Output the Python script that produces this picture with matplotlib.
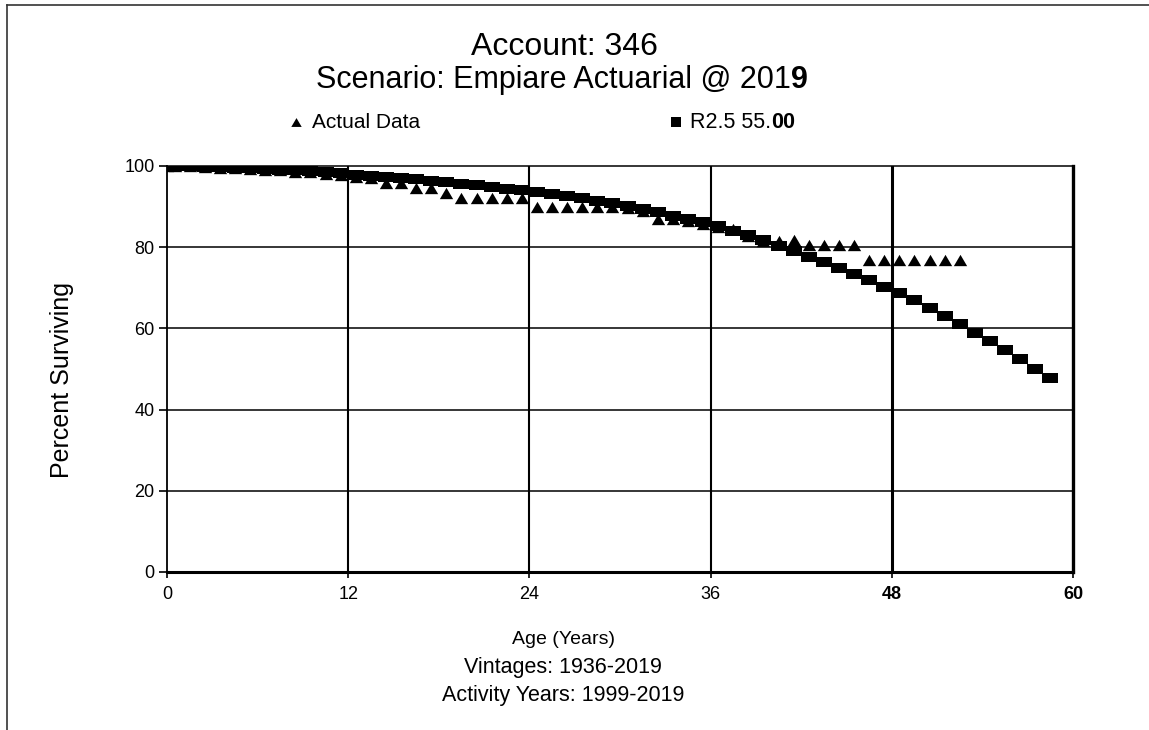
import matplotlib
matplotlib.use("Agg")
import matplotlib.pyplot as plt
from matplotlib.path import Path
from matplotlib.lines import Line2D

plt.rcParams['font.family'] = ['Liberation Sans', 'DejaVu Sans']

# ---- data ----
fit_age = [0, 0.5, 1.5, 2.5, 3.5, 4.5, 5.5, 6.5, 7.5, 8.5, 9.5, 10.5, 11.5,
           12.5, 13.5, 14.5, 15.5, 16.5, 17.5, 18.5, 19.5, 20.5, 21.5, 22.5,
           23.5, 24.5, 25.5, 26.5, 27.5, 28.5, 29.5, 30.5, 31.5, 32.5, 33.5,
           34.5, 35.5, 36.5, 37.5, 38.5, 39.5, 40.5, 41.5, 42.5, 43.5, 44.5,
           45.5, 46.5, 47.5, 48.5, 49.5, 50.5, 51.5, 52.5, 53.5, 54.5, 55.5,
           56.5, 57.5, 58.5]
fit_pct = [100.0, 100.0, 99.9, 99.8, 99.7, 99.6, 99.5, 99.3, 99.1, 98.9, 98.7,
           98.5, 98.2, 97.9, 97.6, 97.3, 97.0, 96.7, 96.3, 96.0, 95.6, 95.2,
           94.8, 94.4, 94.0, 93.5, 93.0, 92.5, 92.0, 91.4, 90.8, 90.1, 89.4,
           88.6, 87.8, 87.0, 86.1, 85.1, 84.0, 82.9, 81.7, 80.4, 79.1, 77.7,
           76.3, 74.8, 73.3, 71.8, 70.2, 68.6, 66.9, 65.0, 63.0, 61.0, 58.9,
           56.8, 54.6, 52.4, 50.1, 47.8]

act_age = [0, 0.5, 1.5, 2.5, 3.5, 4.5, 5.5, 6.5, 7.5, 8.5, 9.5, 10.5, 11.5,
           12.5, 13.5, 14.5, 15.5, 16.5, 17.5, 18.5, 19.5, 20.5, 21.5, 22.5,
           23.5, 24.5, 25.5, 26.5, 27.5, 28.5, 29.5, 30.5, 31.5, 32.5, 33.5,
           34.5, 35.5, 36.5, 37.5, 38.5, 39.5, 40.5, 41.5, 42.5, 43.5, 44.5,
           45.5, 46.5, 47.5, 48.5, 49.5, 50.5, 51.5, 52.5]
act_pct = [100.0, 100.0, 99.9, 99.7, 99.6, 99.5, 99.3, 99.1, 98.9, 98.6, 98.4,
           98.1, 97.8, 97.4, 97.0, 95.8, 95.8, 94.6, 94.6, 93.3, 92.0, 92.0,
           92.0, 92.0, 92.0, 89.8, 89.8, 89.8, 89.8, 89.8, 89.8, 89.6, 89.0,
           87.0, 87.0, 86.5, 85.8, 85.0, 84.6, 82.8, 81.6, 81.5, 81.8, 80.6,
           80.6, 80.6, 80.6, 76.9, 76.9, 76.9, 76.9, 76.9, 76.9, 76.9]

x_ticks = [0, 12, 24, 36, 48, 60]
y_ticks = [0, 20, 40, 60, 80, 100]

title_lines = ["Account: 346", "Scenario: Empiare Actuarial @ 2019"]
legend_labels = ["Actual Data", "R2.5 55.00"]
xlabel_lines = ["Age (Years)", "Vintages: 1936-2019", "Activity Years: 1999-2019"]
ylabel = "Percent Surviving"

W, H = 1149, 730
fig = plt.figure(figsize=(W / 100, H / 100), dpi=100)
renderer = fig.canvas.get_renderer()


def fx(px):
    return px / W


def fy(py):
    return 1 - py / H


def split_text(x_left, y, text, n_bold, fs):
    """Draw text whose last n_bold characters are bold, starting at pixel x_left."""
    t1 = fig.text(fx(x_left), fy(y), text[:-n_bold], ha='left', va='center', fontsize=fs)
    bb = t1.get_window_extent(renderer)
    fig.text(bb.x1 / W, fy(y), text[-n_bold:], ha='left', va='center',
             fontsize=fs, fontweight='bold')


L, R, T, B = 167, 1073, 166, 572
ax = fig.add_axes([fx(L), fy(B), (R - L) / W, (B - T) / H])

rect = Path([(-1.5, -1.0), (1.5, -1.0), (1.5, 1.0), (-1.5, 1.0), (-1.5, -1.0)],
            [Path.MOVETO, Path.LINETO, Path.LINETO, Path.LINETO, Path.CLOSEPOLY])
tri = Path([(0, 0.85), (-1.0, -0.85), (1.0, -0.85), (0, 0.85)],
           [Path.MOVETO, Path.LINETO, Path.LINETO, Path.CLOSEPOLY])

# grid
for xv in x_ticks[1:-1]:
    ax.axvline(xv, color='black', lw=2.2 if xv == 48 else 1.5, zorder=1)
for yv in y_ticks[1:-1]:
    ax.axhline(yv, color='black', lw=1.1, zorder=1)

ax.plot(act_age, act_pct, linestyle='none', marker=tri, markersize=9.6,
        color='black', markeredgewidth=0, zorder=3)
ax.plot(fit_age, fit_pct, linestyle='none', marker=rect, markersize=11,
        color='black', markeredgewidth=0, zorder=4)

ax.set_xlim(0, 60)
ax.set_ylim(0, 100)
ax.set_xticks(x_ticks)
ax.set_yticks(y_ticks)
ax.set_xticklabels([str(v) for v in x_ticks], fontsize=13)
ax.set_yticklabels([str(v) for v in y_ticks], fontsize=13)
for lbl in ax.get_xticklabels():
    if lbl.get_text() in ("48", "60"):
        lbl.set_fontweight('bold')
ax.tick_params(axis='x', length=4, width=1.2, pad=6)
ax.tick_params(axis='y', length=6, width=1.2, pad=3)

for side, lw in (('left', 1.3), ('bottom', 2.2), ('top', 1.1), ('right', 2.4)):
    ax.spines[side].set_linewidth(lw)
    ax.spines[side].set_color('black')

# titles
fig.text(fx(564), fy(47), title_lines[0], ha='center', va='center', fontsize=23)
split_text(316, 80, title_lines[1], 1, 22)

# legend
fig.add_artist(Line2D([fx(296)], [fy(122)], marker=tri, markersize=7.5,
                      color='black', markeredgewidth=0, linestyle='none',
                      transform=fig.transFigure))
fig.text(fx(312), fy(122), legend_labels[0], ha='left', va='center', fontsize=15)
fig.add_artist(Line2D([fx(676)], [fy(122)], marker='s', markersize=6.5,
                      color='black', markeredgewidth=0, linestyle='none',
                      transform=fig.transFigure))
split_text(690, 122, legend_labels[1], 2, 15.5)

# axis labels
fig.text(fx(62), fy(380), ylabel, ha='center', va='center', rotation=90, fontsize=18)
for t, yy, fs in zip(xlabel_lines, (640, 667, 696), (14, 15.5, 15.5)):
    fig.text(fx(563), fy(yy), t, ha='center', va='center', fontsize=fs)

# figure border (top and left)
fig.add_artist(Line2D([fx(7), 1], [fy(5), fy(5)], color='#333333', lw=1.2,
                      transform=fig.transFigure))
fig.add_artist(Line2D([fx(7), fx(7)], [0, fy(5)], color='#333333', lw=1.2,
                      transform=fig.transFigure))

fig.savefig("out.png", dpi=100)
